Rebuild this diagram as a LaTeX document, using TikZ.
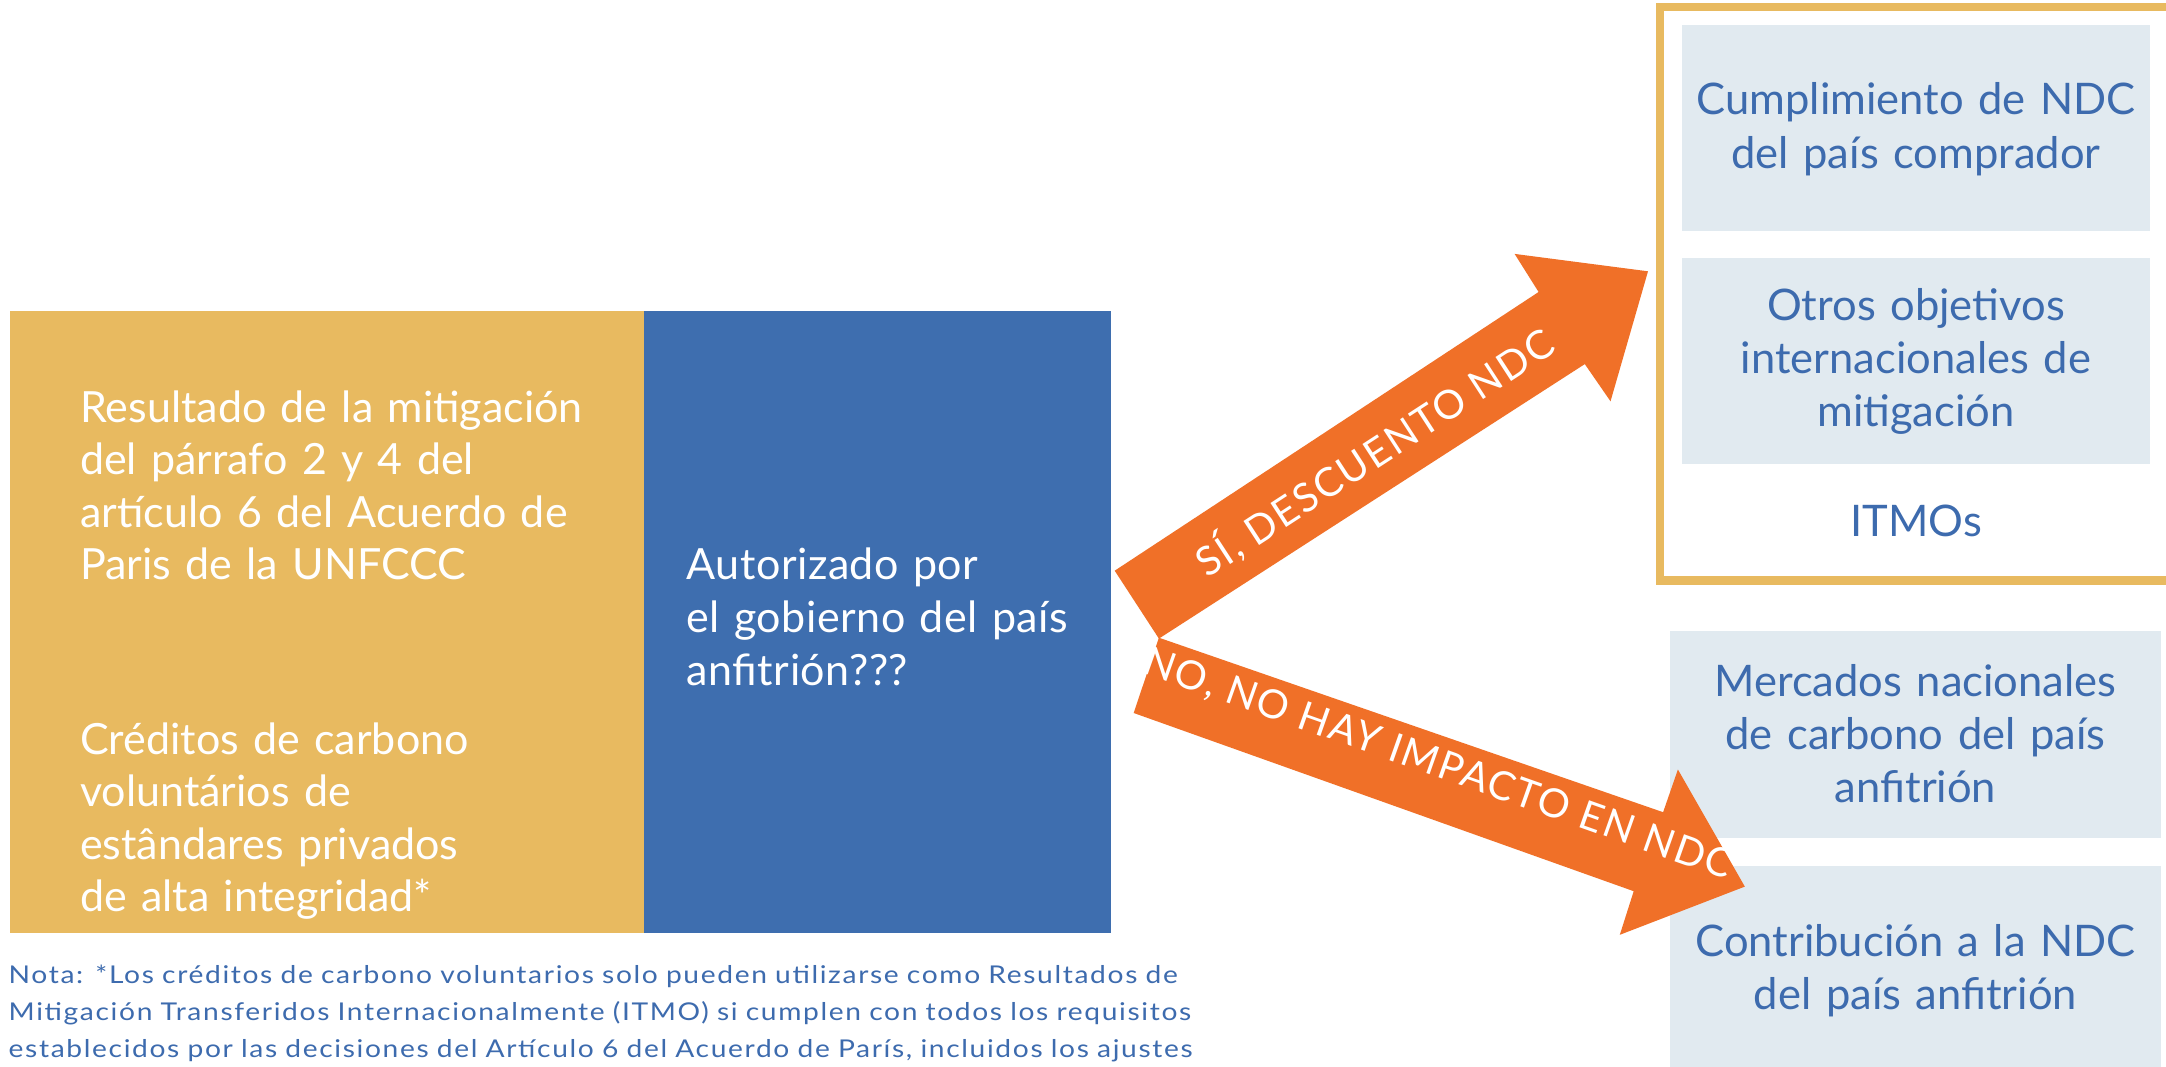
\documentclass[tikz,border=0pt]{standalone}
\usepackage{fontspec}
\setmainfont{Lato}
\newfontfamily\arrowfont[LetterSpace=5]{Lato}
\newfontfamily\autfont[LetterSpace=1.2]{Lato}
\newfontfamily\notefont[FakeStretch=1.15,LetterSpace=6.7]{Lato}
\definecolor{gold}{RGB}{232,186,96}
\definecolor{ablue}{RGB}{62,110,175}
\definecolor{orng}{RGB}{240,112,40}
\definecolor{lightbox}{RGB}{225,234,240}
\definecolor{txtblue}{RGB}{61,107,174}
\begin{document}
\begin{tikzpicture}[x=1pt,y=-1pt,
  blockbox/.style={inner sep=0pt, outer sep=0pt, draw=none, anchor=north west},
  wtxt/.style={text=white, inner sep=0pt, font=\fontsize{43}{52.6}\selectfont, align=left, text width=600pt, anchor=base west},
  btxt/.style={text=txtblue, inner sep=0pt, font=\fontsize{43.5}{53.3}\selectfont, align=center, text width=480pt, anchor=base},
  arrowshape/.style={fill=orng, draw=none},
  arrowtxt/.style={text=white, inner sep=0pt, font=\arrowfont\fontsize{40}{40}\selectfont},
  notetxt/.style={text=txtblue, inner sep=0pt, font=\notefont\fontsize{24.5}{36.9}\selectfont, align=left, text width=1500pt, anchor=base west}
]
\useasboundingbox (0,0) rectangle (2166,1067);
\fill[white] (0,0) rectangle (2166,1067);

% left blocks
\node[blockbox, fill=gold, minimum width=634.3pt, minimum height=621.7pt] (goldbox) at (9.7,310.8) {};
\node[blockbox, fill=ablue, minimum width=466.7pt, minimum height=621.7pt] (bluebox) at (644,310.8) {};

\node[wtxt] (res) at (80,422) {Resultado de la mitigación\\del párrafo 2 y 4 del\\artículo 6 del Acuerdo de\\Paris de la UNFCCC};
\node[wtxt] (cred) at (80,754) {Créditos de carbono\\voluntários de\\estândares privados\\de alta integridad*};
\node[wtxt, font=\autfont\fontsize{43}{53.4}\selectfont] (aut) at (686.5,579) {Autorizado por\\el gobierno del país\\anfitrión???};

% right frame and boxes
\draw[gold, line width=8.4pt] (1660,7.3) rectangle (2200,580.4);
\node[blockbox, fill=lightbox, minimum width=468pt, minimum height=206pt] (b1) at (1682,25) {};
\node[blockbox, fill=lightbox, minimum width=468pt, minimum height=206pt] (b2) at (1682,258) {};
\node[blockbox, fill=lightbox, minimum width=491pt, minimum height=207pt] (b3) at (1670,631) {};
\node[blockbox, fill=lightbox, minimum width=491pt, minimum height=220pt] (b4) at (1670,866) {};

\node[btxt] (t1) at (1916,115) {Cumplimiento de NDC\\del país comprador};
\node[btxt] (t2) at (1916,320) {Otros objetivos\\internacionales de\\mitigación};
\node[btxt] (itmo) at (1916,536.5) {ITMOs};
\node[btxt] (t3) at (1915.5,696) {Mercados nacionales\\de carbono del país\\anfitrión};
\node[btxt] (t4) at (1915.5,956.4) {Contribución a la NDC\\del país anfitrión};

% arrows
\coordinate (uA) at (1114.7,570.7);
\coordinate (uB) at (1158.9,638.6);
\coordinate (uC) at (1584.8,364.1);
\coordinate (uD) at (1610.5,401.3);
\coordinate (uE) at (1648,271.3);
\coordinate (uF) at (1514.6,253.9);
\coordinate (uG) at (1538.6,292);
\coordinate (lA) at (1158.9,637.7);
\coordinate (lB) at (1663.1,812.2);
\coordinate (lC) at (1677.9,769.5);
\coordinate (lD) at (1744.8,886.6);
\coordinate (lE) at (1619.8,934.8);
\coordinate (lF) at (1633.7,891.2);
\coordinate (lG) at (1133.7,713);
\fill[arrowshape] (lA) -- (lB) -- (lC) -- (lD) -- (lE) -- (lF) -- (lG) -- cycle;
\fill[arrowshape] (uA) -- (uB) -- (uC) -- (uD) -- (uE) -- (uF) -- (uG) -- cycle;

\node[arrowtxt, rotate=33] (yes) at (1374,452) {SÍ, DESCUENTO NDC};
\node[arrowtxt, rotate=-19.5] (no) at (1438,765) {NO, NO HAY IMPACTO EN NDC};

% note
\node[notetxt] (note) at (8.5,983.5) {Nota: *Los créditos de carbono voluntarios solo pueden utilizarse como Resultados de\\Mitigación Transferidos Internacionalmente (ITMO) si cumplen con todos los requisitos\\establecidos por las decisiones del Artículo 6 del Acuerdo de París, incluidos los ajustes};
\end{tikzpicture}
\end{document}
